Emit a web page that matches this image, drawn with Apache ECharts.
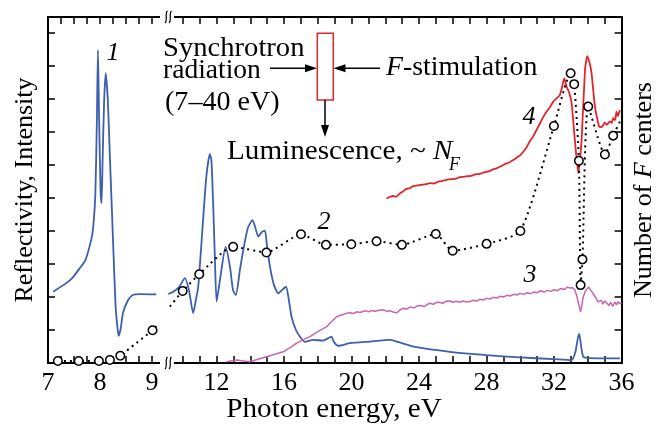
<!DOCTYPE html>
<html>
<head>
<meta charset="utf-8">
<script src="https://cdn.jsdelivr.net/npm/echarts@6/dist/echarts.min.js"></script>
<style>
  html, body { margin: 0; padding: 0; background: #fff; }
  #chart { width: 664px; height: 430px; }
</style>
</head>
<body>
<div id="chart"></div>
<script>
// photon energy (eV), value in tick units of the left axis
const reflLeft = [
  [7.10, 2.16], [7.35, 2.42], [7.47, 2.58], [7.61, 2.87], [7.72, 3.12], [7.83, 3.73],
  [7.87, 4.13], [7.91, 5.09], [7.94, 7.36], [7.96, 9.48], [7.98, 7.67], [8.01, 5.24],
  [8.03, 4.84], [8.05, 6.15], [8.08, 7.97], [8.11, 8.78], [8.15, 7.97], [8.19, 6.25],
  [8.25, 3.73], [8.30, 1.71], [8.34, 1.00], [8.36, 0.82], [8.40, 1.06], [8.44, 1.51],
  [8.54, 1.91], [8.63, 2.06], [8.76, 2.09], [9.08, 2.08]
]
const reflRight = [
  [9.13, 2.09], [9.43, 2.16], [9.77, 2.30], [10.12, 2.57], [10.36, 2.21], [10.61, 1.51],
  [10.77, 1.91], [10.91, 2.31], [11.21, 4.43], [11.40, 5.70], [11.60, 6.33], [11.69, 6.15],
  [11.80, 4.74], [11.90, 3.12], [12.00, 1.86], [12.20, 2.52], [12.53, 3.52], [12.79, 2.92],
  [12.97, 2.21], [13.14, 2.06], [13.38, 2.82], [13.58, 3.42], [13.85, 4.09], [14.13, 4.33],
  [14.30, 4.09], [14.47, 3.83], [14.68, 3.97], [14.86, 4.01], [14.98, 3.58], [15.16, 2.92],
  [15.40, 2.36], [15.65, 2.11], [15.87, 2.21], [16.11, 2.31], [16.28, 1.91], [16.44, 1.40],
  [16.70, 1.00], [16.94, 0.80], [17.23, 0.64], [17.72, 0.70], [18.32, 0.68], [18.65, 0.76],
  [18.81, 0.80], [18.95, 0.64], [19.21, 0.52], [19.90, 0.60], [21.08, 0.65], [22.27, 0.70],
  [22.67, 0.65], [23.85, 0.48], [25.83, 0.34], [28.00, 0.24], [29.97, 0.17], [31.95, 0.12],
  [33.04, 0.09], [33.26, 0.33], [33.41, 0.76], [33.49, 0.88], [33.59, 0.55], [33.73, 0.19],
  [34.12, 0.15], [35.90, 0.14]
]
const curve3 = [
  [12.59, 0.04], [13.19, 0.09], [13.60, 0.06], [13.97, 0.04], [14.50, 0.12], [14.96, 0.19],
  [15.50, 0.27], [15.95, 0.34], [16.40, 0.48], [16.74, 0.60], [17.10, 0.70], [17.53, 0.80],
  [18.00, 0.95], [18.52, 1.10], [18.80, 1.25], [19.11, 1.40], [19.30, 1.44], [19.50, 1.47],
  [19.70, 1.51], [19.90, 1.52], [20.10, 1.50], [20.30, 1.55], [20.50, 1.53], [20.70, 1.57],
  [20.85, 1.58], [21.00, 1.55], [21.20, 1.59], [21.40, 1.57], [21.60, 1.60], [21.87, 1.61],
  [22.10, 1.57], [22.30, 1.58], [22.50, 1.54], [22.67, 1.52], [22.85, 1.60], [23.06, 1.66],
  [23.25, 1.63], [23.50, 1.70], [23.70, 1.67], [23.90, 1.73], [24.10, 1.74], [24.30, 1.71],
  [24.50, 1.78], [24.64, 1.81], [24.85, 1.78], [25.00, 1.83], [25.20, 1.84], [25.40, 1.81],
  [25.60, 1.87], [25.83, 1.88], [26.00, 1.84], [26.20, 1.87], [26.40, 1.84], [26.60, 1.88],
  [26.80, 1.85], [27.01, 1.86], [27.20, 1.90], [27.40, 1.88], [27.60, 1.93], [27.80, 1.91],
  [28.00, 1.96], [28.20, 1.94], [28.40, 1.99], [28.60, 1.97], [28.80, 2.02], [29.00, 2.00],
  [29.20, 2.05], [29.40, 2.03], [29.60, 2.08], [29.80, 2.06], [30.00, 2.11], [30.20, 2.08],
  [30.40, 2.13], [30.60, 2.10], [30.80, 2.15], [31.00, 2.13], [31.20, 2.19], [31.40, 2.15],
  [31.60, 2.20], [31.80, 2.17], [32.00, 2.22], [32.20, 2.19], [32.40, 2.26], [32.60, 2.23],
  [32.80, 2.30], [32.94, 2.27], [33.10, 2.28], [33.23, 2.21], [33.35, 2.02], [33.45, 1.80],
  [33.57, 1.55], [33.65, 1.75], [33.71, 1.97], [33.85, 2.18], [33.93, 2.21], [34.05, 2.30],
  [34.12, 2.24], [34.25, 2.15], [34.36, 2.06], [34.50, 1.95], [34.60, 1.85], [34.71, 1.81],
  [34.80, 1.90], [34.90, 1.78], [35.00, 1.88], [35.13, 1.82], [35.25, 1.74], [35.35, 1.84],
  [35.48, 1.72], [35.60, 1.85], [35.70, 1.76], [35.80, 1.86], [35.90, 1.79], [36.00, 1.83]
]
const curve4 = [
  [22.07, 4.99], [22.25, 5.03], [22.45, 5.06], [22.65, 5.04], [22.86, 5.14], [23.05, 5.20],
  [23.22, 5.27], [23.45, 5.30], [23.65, 5.36], [23.90, 5.38], [24.15, 5.40], [24.40, 5.42],
  [24.64, 5.45], [24.90, 5.44], [25.15, 5.50], [25.40, 5.52], [25.63, 5.55], [25.90, 5.57],
  [26.15, 5.58], [26.40, 5.63], [26.60, 5.64], [26.85, 5.66], [27.10, 5.67], [27.35, 5.72],
  [27.60, 5.73], [27.85, 5.78], [28.10, 5.80], [28.35, 5.86], [28.59, 5.90], [28.85, 5.96],
  [29.08, 6.03], [29.30, 6.07], [29.58, 6.15], [29.85, 6.25], [30.00, 6.30], [30.17, 6.40],
  [30.35, 6.52], [30.57, 6.73], [30.75, 6.86], [30.96, 7.06], [31.15, 7.25], [31.35, 7.45],
  [31.56, 7.62], [31.75, 7.75], [31.95, 7.92], [32.15, 8.02], [32.34, 8.12], [32.46, 8.33],
  [32.60, 8.63], [32.74, 8.37], [32.88, 8.21], [33.04, 7.87], [33.23, 6.76], [33.43, 5.75],
  [33.53, 6.15], [33.63, 6.76], [33.83, 8.88], [33.96, 9.30], [34.09, 9.12], [34.22, 8.78],
  [34.42, 7.77], [34.67, 7.16], [34.83, 7.15], [35.00, 7.28], [35.11, 7.22], [35.31, 7.32],
  [35.42, 7.28], [35.50, 7.42], [35.62, 7.36], [35.70, 7.62], [35.78, 7.48], [35.90, 7.67]
]
// curve 2: number of F centers (open circles)
const fCentersLeft = [[7.19, 0.06], [7.59, 0.06], [7.98, 0.06], [8.19, 0.09], [8.39, 0.22], [9.01, 0.99]]
const fCentersRight = [
  [9.99, 2.18], [10.97, 2.69], [12.98, 3.52], [14.95, 3.35], [17.00, 3.90], [18.48, 3.58],
  [19.98, 3.60], [21.48, 3.69], [22.98, 3.58], [24.99, 3.91], [25.99, 3.40], [28.00, 3.61],
  [30.00, 4.00], [31.99, 7.18], [32.98, 8.78], [33.19, 8.45], [33.47, 6.13], [33.57, 2.36],
  [33.68, 3.14], [34.02, 7.77], [35.01, 6.32], [35.50, 6.89]
]
// dotted line continues past the break and the right edge
const fLeftTail = [9.11, 1.15]
const fRightHead = [9.23, 1.71]
const fRightTail = [36.0, 7.42]

const tickLabelsLeft = [7, 8, 9]
const tickLabelsRight = [12, 16, 20, 24, 28, 32, 36]

const FONT = 'Liberation Serif, Times New Roman, DejaVu Serif, serif'
const BLUE = '#3d5fae'
const RED = '#e5232b'
const PINK = '#c766a9'
const STRETCH = 1.08

const myChart = echarts.init(document.getElementById('chart'))

function xAxisOf(gridIndex, pos, min, max, interval, labels) {
  return {
    type: 'value', gridIndex: gridIndex, position: pos, min: min, max: max, interval: interval,
    axisLine: { show: true, onZero: false, lineStyle: { color: '#000', width: 2 } },
    axisTick: { show: true, inside: true, length: 7, lineStyle: { color: '#000', width: 1.5 } },
    axisLabel: {
      show: pos === 'bottom', margin: 7, color: '#000', fontFamily: FONT, fontSize: 26,
      formatter: v => labels.indexOf(Math.round(v * 100) / 100) >= 0 ? String(Math.round(v)) : ''
    },
    splitLine: { show: false }
  }
}
function yAxisOf(gridIndex, pos) {
  return {
    type: 'value', gridIndex: gridIndex, position: pos, min: 0, max: 10.485, interval: 1,
    axisLine: { show: true, onZero: false, lineStyle: { color: '#000', width: 2 } },
    axisTick: { show: true, inside: true, length: 7, lineStyle: { color: '#000', width: 1.5 } },
    axisLabel: { show: false },
    splitLine: { show: false }
  }
}
function curve(data, xi, color, width, smooth) {
  return {
    type: 'line', xAxisIndex: xi, yAxisIndex: xi < 2 ? 0 : 1, data: data, showSymbol: false,
    symbol: 'none', smooth: smooth, lineStyle: { color: color, width: width }, silent: true, z: 2
  }
}
function dotted(points, xi, extra, smooth) {
  const data = points.map(p => ({ value: p }))
  extra.forEach(e => {
    const item = { value: e[1], symbol: 'none' }
    if (e[0] === 'head') data.unshift(item)
    else data.push(item)
  })
  return {
    type: 'line', xAxisIndex: xi, yAxisIndex: xi < 2 ? 0 : 1, data: data,
    symbol: 'circle', symbolSize: 8.5, smooth: smooth,
    itemStyle: { color: '#fff', borderColor: '#000', borderWidth: 1.5 },
    lineStyle: { color: '#000', width: 2, type: [2, 4] }, silent: true, z: 5
  }
}
function txt(x, y, text, size, extra, sx) {
  return {
    type: 'text', x: x, y: y, scaleX: sx || 1, silent: true, z: 10,
    style: Object.assign({
      text: text, fill: '#000', fontFamily: FONT, fontSize: size,
      textAlign: 'left', textVerticalAlign: 'middle'
    }, extra || {})
  }
}
function richOf(size) {
  return {
    a: { fontFamily: FONT, fontSize: size, fill: '#000' },
    b: { fontFamily: FONT, fontSize: size, fontStyle: 'italic', fill: '#000' }
  }
}
function arrowHead(tip, dir) {
  const [x, y] = tip
  const L = 12, W = 4
  let pts
  if (dir === 'right') pts = [[x, y], [x - L, y - W], [x - L, y + W]]
  else if (dir === 'left') pts = [[x, y], [x + L, y - W], [x + L, y + W]]
  else pts = [[x, y], [x - W, y - L], [x + W, y - L]]
  return { type: 'polygon', shape: { points: pts }, style: { fill: '#000' }, silent: true, z: 10 }
}
function seg(x1, y1, x2, y2) {
  return { type: 'line', shape: { x1, y1, x2, y2 }, style: { stroke: '#000', lineWidth: 1.5 }, silent: true, z: 10 }
}
function squiggle(x, y) {
  return [0, 4].map(dx => ({
    type: 'bezierCurve', silent: true, z: 12,
    shape: { x1: x + dx, y1: y + 6, x2: x + dx + 2.5, y2: y - 6, cpx1: x + dx + 3, cpy1: y + 4, cpx2: x + dx - 0.5, cpy2: y - 4 },
    style: { stroke: '#000', lineWidth: 1.2, fill: null }
  }))
}

const breakCovers = [
  { type: 'rect', shape: { x: 160, y: 9, width: 14, height: 16 }, style: { fill: '#fff' }, silent: true, z: 11 },
  { type: 'rect', shape: { x: 160, y: 355, width: 14, height: 16 }, style: { fill: '#fff' }, silent: true, z: 11 }
]

myChart.setOption({
  animation: false,
  backgroundColor: '#fff',
  grid: [
    { left: 48, top: 17, width: 116.5, height: 346 },
    { left: 166, top: 17, width: 455.6, height: 346 }
  ],
  xAxis: [
    xAxisOf(0, 'bottom', 7, 9.24, 0.25, tickLabelsLeft),
    xAxisOf(0, 'top', 7, 9.24, 0.25, []),
    xAxisOf(1, 'bottom', 9, 36, 1, tickLabelsRight),
    xAxisOf(1, 'top', 9, 36, 1, [])
  ],
  yAxis: [yAxisOf(0, 'left'), yAxisOf(1, 'right')],
  series: [
    curve(reflLeft, 0, BLUE, 1.8, 0.2),
    curve(reflRight, 2, BLUE, 1.8, 0.2),
    curve(curve3, 2, PINK, 1.5, false),
    curve(curve4, 2, RED, 1.8, 0.15),
    dotted(fCentersLeft, 0, [['tail', fLeftTail]], false),
    dotted(fCentersRight, 2, [['head', fRightHead], ['tail', fRightTail]], 0.2)
  ],
  graphic: [
    ...breakCovers,
    ...squiggle(165, 17),
    ...squiggle(165, 363),
    txt(334, 410, 'Photon energy, eV', 27, { textAlign: 'center' }, STRETCH),
    Object.assign(txt(25, 190, 'Reflectivity, Intensity', 26, { textAlign: 'center' }), { rotation: Math.PI / 2 }),
    Object.assign(txt(644, 190, '{a|Number of }{b|F}{a| centers}', 26, { textAlign: 'center', rich: richOf(26) }), { rotation: Math.PI / 2 }),
    // scheme of the experiment
    txt(163, 49, 'Synchrotron', 27, null, 1.06),
    txt(163, 71, 'radiation', 27, null, 1.02),
    txt(165, 103, '(7\u201340 eV)', 27, null, 1.04),
    txt(386, 68, '{b|F}{a|-stimulation}', 27, { rich: richOf(27) }, 1.03),
    txt(227, 152, '{a|Luminescence, ~ }{b|N}', 27, { rich: richOf(27) }, STRETCH),
    txt(449, 165, 'F', 18, { fontStyle: 'italic' }),
    { type: 'rect', shape: { x: 317.3, y: 33.3, width: 16, height: 66.7 }, style: { fill: '#fff', stroke: RED, lineWidth: 1.5 }, silent: true, z: 10 },
    seg(270, 68.3, 306, 68.3), arrowHead([317, 68.3], 'right'),
    seg(380, 68.3, 344, 68.3), arrowHead([333.5, 68.3], 'left'),
    seg(325, 100, 325, 126), arrowHead([325, 137], 'down'),
    // curve numbers
    txt(113, 53, '1', 26, { fontStyle: 'italic', textAlign: 'center' }),
    txt(324, 222, '2', 26, { fontStyle: 'italic', textAlign: 'center' }),
    txt(530, 275, '3', 26, { fontStyle: 'italic', textAlign: 'center' }),
    txt(529, 117, '4', 26, { fontStyle: 'italic', textAlign: 'center' })
  ]
})
</script>
</body>
</html>
